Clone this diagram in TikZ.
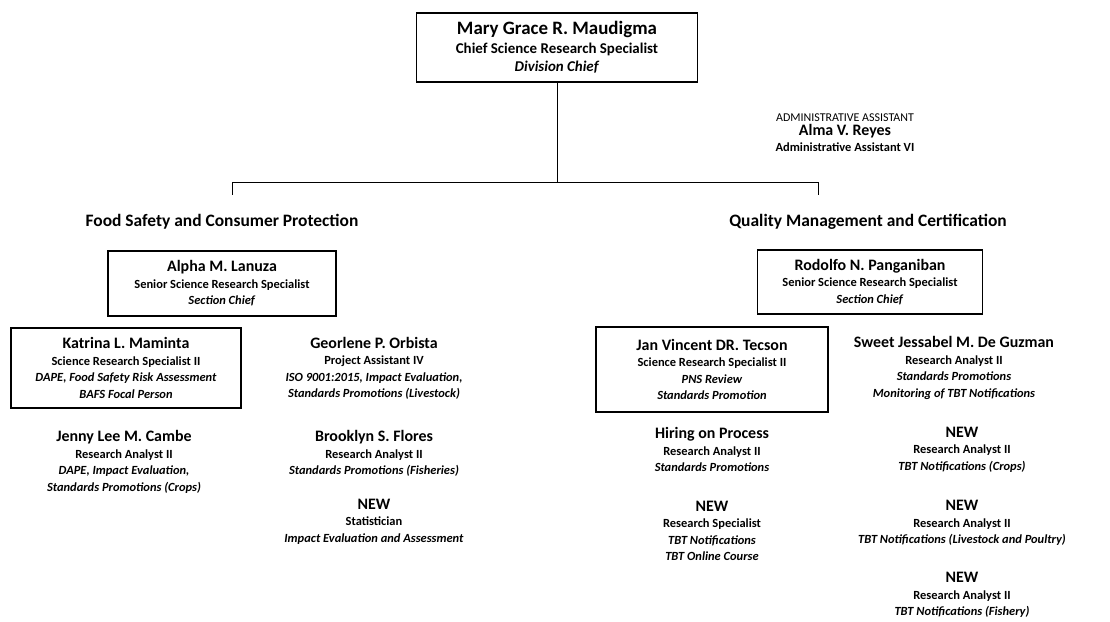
\documentclass[tikz,border=0pt]{standalone}
\usepackage{fontspec}
\setmainfont{Carlito}
\newcommand{\pname}[1]{{\fontsize{16}{16}\selectfont #1}}
\newcommand{\duty}[1]{\textit{#1}}

\begin{document}
\begin{tikzpicture}[x=1bp, y=1bp]
  \tikzstyle{every node}=[align=center, inner sep=0pt]
  \tikzstyle{staff}=[font=\fontsize{12.5}{16.5}\selectfont\bfseries]
  \tikzstyle{boxed}=[staff, draw, line width=1.3pt]
  \tikzstyle{section}=[font=\fontsize{17.5}{18}\selectfont\bfseries]
  \useasboundingbox (0,0) rectangle (1110,622);
  %%
  \node (chief) at (557,574.5) [boxed, minimum width=281bp, minimum height=69bp, font=\fontsize{15}{18.5}\selectfont\bfseries] {{\fontsize{19}{18}\selectfont Mary Grace R. Maudigma}\\Chief Science Research Specialist\\\duty{Division Chief}};
  \node (admin) at (845,489) [staff] {{\mdseries\fontsize{12}{12}\selectfont ADMINISTRATIVE ASSISTANT}\\[-3pt]\pname{Alma V. Reyes}\\Administrative Assistant VI};
  \coordinate (fork) at (557,439);
  \coordinate (forkL) at (232,439);
  \coordinate (forkR) at (818,439);
  \coordinate (endL) at (232,427);
  \coordinate (endR) at (818,427);
  \node (fscp) at (222,400) [section] {Food Safety and Consumer Protection};
  \node (qmc) at (868,400) [section] {Quality Management and Certification};
  %% food safety section
  \node (lanuza) at (222,338.5) [boxed, minimum width=228bp, minimum height=65bp] {\pname{Alpha M. Lanuza}\\Senior Science Research Specialist\\\duty{Section Chief}};
  \node (maminta) at (126,254) [boxed, minimum width=230bp, minimum height=80bp] {\pname{Katrina L. Maminta}\\Science Research Specialist II\\\duty{DAPE, Food Safety Risk Assessment}\\\duty{BAFS Focal Person}};
  \node (orbista) at (374,253.5) [staff] {\pname{Georlene P. Orbista}\\Project Assistant IV\\\duty{ISO 9001:2015, Impact Evaluation,}\\\duty{Standards Promotions (Livestock)}};
  \node (cambe) at (124,160) [staff] {\pname{Jenny Lee M. Cambe}\\Research Analyst II\\\duty{DAPE, Impact Evaluation,}\\\duty{Standards Promotions (Crops)}};
  \node (flores) at (374,168.5) [staff] {\pname{Brooklyn S. Flores}\\Research Analyst II\\\duty{Standards Promotions (Fisheries)}};
  \node (statnew) at (374,100.5) [staff] {\pname{NEW}\\Statistician\\\duty{Impact Evaluation and Assessment}};
  %% quality management section
  \node (panganiban) at (870,340) [boxed, minimum width=225bp, minimum height=64bp] {\pname{Rodolfo N. Panganiban}\\Senior Science Research Specialist\\\duty{Section Chief}};
  \node (tecson) at (712,252.5) [boxed, minimum width=232bp, minimum height=85bp] {\pname{Jan Vincent DR. Tecson}\\Science Research Specialist II\\\duty{PNS Review}\\\duty{Standards Promotion}};
  \node (deguzman) at (954,254) [staff] {\pname{Sweet Jessabel M. De Guzman}\\Research Analyst II\\\duty{Standards Promotions}\\\duty{Monitoring of TBT Notifications}};
  \node (hiring) at (712,172.5) [staff] {\pname{Hiring on Process}\\Research Analyst II\\\duty{Standards Promotions}};
  \node (rsnew) at (712,91) [staff] {\pname{NEW}\\Research Specialist\\\duty{TBT Notifications}\\\duty{TBT Online Course}};
  \node (cropsnew) at (962,172.5) [staff] {\pname{NEW}\\Research Analyst II\\\duty{TBT Notifications (Crops)}};
  \node (livenew) at (962,99) [staff] {\pname{NEW}\\Research Analyst II\\\duty{TBT Notifications (Livestock and Poultry)}};
  \node (fishnew) at (962,27) [staff] {\pname{NEW}\\Research Analyst II\\\duty{TBT Notifications (Fishery)}};
  %%
  \draw [line width=1pt] (chief) -- (fork);
  \draw [line width=1pt] (endL) -- (forkL) -- (forkR) -- (endR);
%
\end{tikzpicture}
\end{document}
